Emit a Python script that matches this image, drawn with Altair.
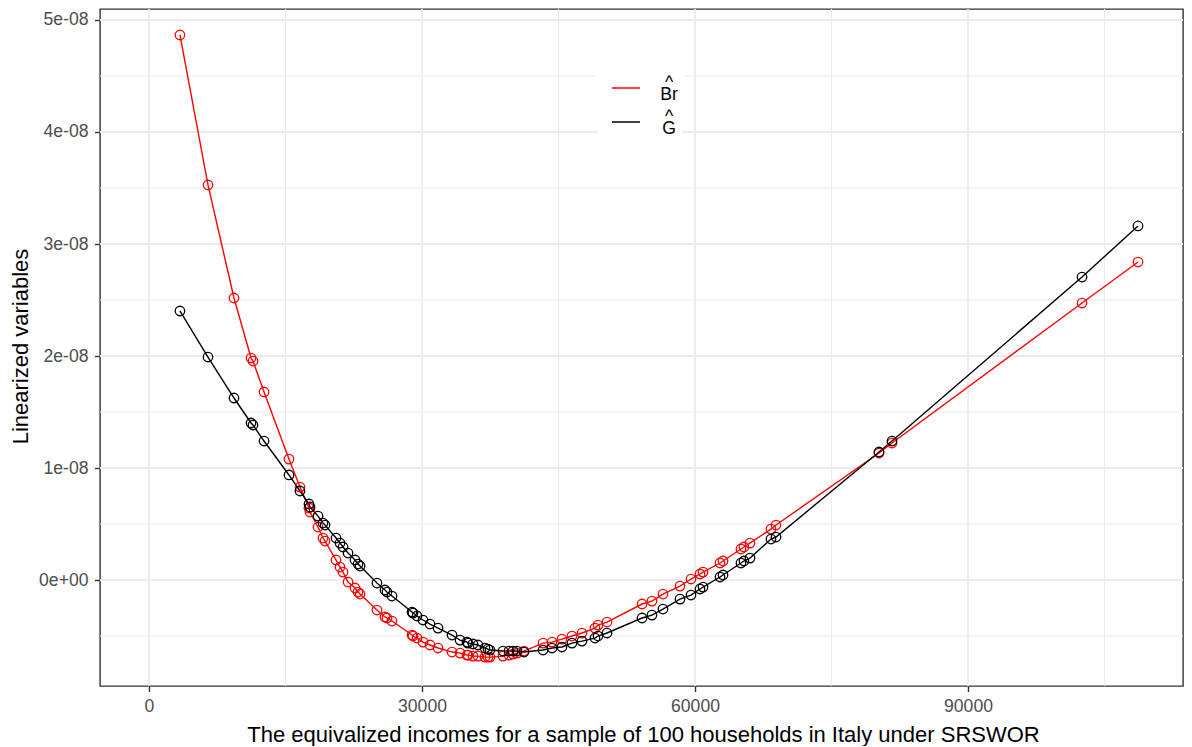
import altair as alt
import pandas as pd

# Equivalized incomes (shared by both linearized variables)
income = [3400, 6480, 9340, 11210, 11430, 12640, 15380, 16590, 17580, 17690,
          18570, 19120, 19340, 20550, 20990, 21320, 21870, 22640, 22970, 23190,
          25050, 25930, 26150, 26700, 28900, 29010, 29450, 30110, 30880, 31760,
          33300, 34180, 34950, 35050, 35600, 36150, 36920, 37250, 37470, 38900,
          39560, 40000, 40440, 41210, 43300, 44290, 45380, 46480, 47580, 49010,
          49340, 50330, 54180, 55270, 56480, 58350, 59560, 60550, 60880, 62750,
          63080, 65050, 65380, 66040, 68350, 68900, 80220, 81650, 102530, 108680]

# Linearized variable of Br (units of 1e-08)
br_e8 = [4.866, 3.527, 2.518, 1.982, 1.955, 1.679, 1.080, 0.830, 0.643, 0.607,
         0.473, 0.375, 0.348, 0.179, 0.116, 0.071, -0.018, -0.071, -0.107, -0.125,
         -0.268, -0.330, -0.339, -0.366, -0.491, -0.500, -0.518, -0.554, -0.580, -0.607,
         -0.643, -0.652, -0.670, -0.670, -0.679, -0.679, -0.688, -0.688, -0.688, -0.679,
         -0.670, -0.661, -0.652, -0.634, -0.563, -0.554, -0.527, -0.500, -0.473, -0.429,
         -0.402, -0.375, -0.214, -0.188, -0.125, -0.054, 0.009, 0.054, 0.071, 0.152,
         0.170, 0.277, 0.295, 0.330, 0.455, 0.491, 1.134, 1.223, 2.473, 2.839]

# Linearized variable of G (units of 1e-08)
g_e8 = [2.402, 1.991, 1.625, 1.402, 1.384, 1.241, 0.938, 0.795, 0.679, 0.652,
        0.571, 0.509, 0.491, 0.375, 0.330, 0.295, 0.241, 0.179, 0.143, 0.125,
        -0.027, -0.089, -0.107, -0.143, -0.286, -0.295, -0.321, -0.357, -0.393, -0.429,
        -0.491, -0.536, -0.554, -0.563, -0.571, -0.580, -0.607, -0.616, -0.625, -0.634,
        -0.634, -0.634, -0.634, -0.643, -0.625, -0.607, -0.598, -0.563, -0.545, -0.518,
        -0.500, -0.473, -0.339, -0.313, -0.259, -0.170, -0.134, -0.080, -0.063, 0.027,
        0.045, 0.152, 0.170, 0.196, 0.366, 0.384, 1.143, 1.241, 2.705, 3.161]

series_names = ["Br", "G"]
series_colors = ["#FF0000", "#000000"]

x_ticks = [0, 30000, 60000, 90000]
x_minor = [15000, 45000, 75000, 105000]
y_ticks = [0, 1e-8, 2e-8, 3e-8, 4e-8, 5e-8]
y_minor = [-0.5e-8, 0.5e-8, 1.5e-8, 2.5e-8, 3.5e-8, 4.5e-8]
x_domain = [-5385, 113626]
y_domain = [-0.946e-8, 5.098e-8]

rows = []
for name, vals in zip(series_names, [br_e8, g_e8]):
    for inc, v in zip(income, vals):
        rows.append({"income": inc, "value": v * 1e-8, "series": name})
df = pd.DataFrame(rows)

FONT = "Liberation Sans"

x_scale = alt.Scale(domain=x_domain, nice=False, zero=False)
y_scale = alt.Scale(domain=y_domain, nice=False, zero=False)

x_axis = alt.Axis(
    values=x_ticks, format="d", grid=False, domain=False,
    tickSize=5.5, tickWidth=1.4, tickColor="#333333",
    labelFont=FONT, labelFontSize=17.6, labelColor="#4D4D4D", labelPadding=6,
    labelFlush=False, labelOverlap=False,
    title="The equivalized incomes for a sample of 100 households in Italy under SRSWOR",
    titleFont=FONT, titleFontSize=22, titleFontWeight="normal", titleColor="#000000",
    titleX=543, titleY=55, titleAlign="center", titleBaseline="alphabetic",
)
y_axis = alt.Axis(
    values=y_ticks, grid=False, domain=False,
    labelExpr="datum.value == 0 ? '0e+00' : replace(format(datum.value, '.0e'), 'e-', 'e-0')",
    tickSize=5.5, tickWidth=1.4, tickColor="#333333",
    labelFont=FONT, labelFontSize=17.6, labelColor="#4D4D4D", labelPadding=6.5,
    labelFlush=False, labelOverlap=False,
    title="Linearized variables",
    titleFont=FONT, titleFontSize=22, titleFontWeight="normal", titleColor="#000000",
    titleX=-73, titleY=337, titleAngle=-90, titleAlign="center", titleBaseline="alphabetic",
)

X = alt.X("income:Q", scale=x_scale, axis=x_axis)
Y = alt.Y("value:Q", scale=y_scale, axis=y_axis)

grid_color = "#EBEBEB"
xg_minor = alt.Chart(pd.DataFrame({"income": x_minor})).mark_rule(
    color=grid_color, strokeWidth=1.0).encode(x=X)
xg_major = alt.Chart(pd.DataFrame({"income": x_ticks})).mark_rule(
    color=grid_color, strokeWidth=1.8).encode(x=X)
yg_minor = alt.Chart(pd.DataFrame({"value": y_minor})).mark_rule(
    color=grid_color, strokeWidth=1.0).encode(y=Y)
yg_major = alt.Chart(pd.DataFrame({"value": y_ticks})).mark_rule(
    color=grid_color, strokeWidth=1.8).encode(y=Y)

legend = alt.Legend(
    title=None, orient="none", legendX=497, legendY=59,
    symbolType="stroke", symbolSize=784, symbolStrokeWidth=1.5,
    symbolOffset=9, labelOffset=28, labelAlign="center", labelBaseline="alphabetic",
    labelExpr="datum.label == 'Br' ? ['^', 'Br'] : ['^', 'G']",
    labelFont=FONT, labelFontSize=17.6, labelColor="#000000",
    padding=5, rowPadding=3, fillColor="#FFFFFF",
)

lines = alt.Chart(df).mark_line(strokeWidth=1.4).encode(
    x=X, y=Y,
    color=alt.Color("series:N", scale=alt.Scale(domain=series_names, range=series_colors),
                    legend=legend),
    order=alt.Order("income:Q"),
)
points = alt.Chart(df).mark_point(shape="circle", filled=False, size=90,
                                  strokeWidth=1.3, opacity=1).encode(
    x=X, y=Y,
    stroke=alt.Stroke("series:N", scale=alt.Scale(domain=series_names, range=series_colors),
                      legend=None),
)

chart = alt.layer(xg_minor, xg_major, yg_minor, yg_major, lines, points).properties(
    width=1083, height=677,
    autosize=alt.AutoSizeParams(type="none"),
    padding={"left": 92, "top": 1, "right": 1, "bottom": 60},
).configure(
    style={"guide-label": {"lineHeight": 12.2}},
).configure_view(stroke="#333333", strokeWidth=1.4)

chart.save("out.html", embed_options={"renderer": "svg", "actions": False})
